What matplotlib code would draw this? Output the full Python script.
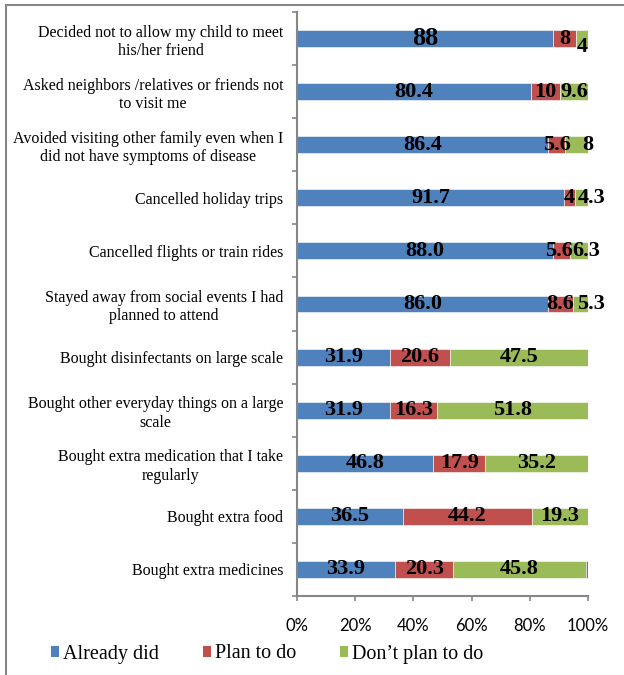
import matplotlib
matplotlib.use("Agg")
import matplotlib.pyplot as plt
from matplotlib.patches import Rectangle, Patch
import numpy as np

categories = [
    "Decided not to allow my child to meet\nhis/her friend",
    "Asked neighbors /relatives or friends not\nto visit me",
    "Avoided visiting other family even when I\ndid not have symptoms of disease",
    "Cancelled holiday trips",
    "Cancelled flights or train rides",
    "Stayed away from social events I had\nplanned to attend",
    "Bought disinfectants on large scale",
    "Bought other everyday things on a large\nscale",
    "Bought extra medication that I take\nregularly",
    "Bought extra food",
    "Bought extra medicines",
]
already_did = [88, 80.4, 86.4, 91.7, 88.0, 86.0, 31.9, 31.9, 46.8, 36.5, 33.9]
plan_to_do = [8, 10, 5.6, 4, 5.6, 8.6, 20.6, 16.3, 17.9, 44.2, 20.3]
dont_plan = [4, 9.6, 8, 4.3, 6.3, 5.3, 47.5, 51.8, 35.2, 19.3, 45.8]
other = [0, 0, 0, 0, 0, 0, 0, 0, 0, 0, 0.8]

already_lbl = ["88", "80.4", "86.4", "91.7", "88.0", "86.0", "31.9", "31.9", "46.8", "36.5", "33.9"]
plan_lbl = ["8", "10", "5.6", "4", "5.6", "8.6", "20.6", "16.3", "17.9", "44.2", "20.3"]
dont_lbl = ["4", "9.6", "8", "4.3", "6.3", "5.3", "47.5", "51.8", "35.2", "19.3", "45.8"]

series_names = ["Already did", "Plan to do", "Don\u2019t plan to do"]
colors = ["#4F81BD", "#C0504D", "#9BBB59", "#8064A2"]

# label nudges (points) for crowded small segments: (dx, dy)
nudge_plan = {4: (-2, 0)}
nudge_dont = {0: (0, -6), 2: (8, 0), 3: (7, 0), 4: (5, 0), 5: (8, 0)}

W, H = 624, 675
fig = plt.figure(figsize=(W / 100, H / 100), dpi=100)
ax = fig.add_axes([297 / W, 1 - 596 / H, 291 / W, 584 / H])

data = np.array([already_did, plan_to_do, dont_plan, other], dtype=float)
totals = data.sum(axis=0)
pct = data / totals * 100
y = np.arange(len(categories))
bar_h = 0.32

left = np.zeros(len(categories))
bars = []
for k in range(4):
    ax.barh(y, pct[k], left=left, height=bar_h, color=colors[k],
            edgecolor="white", linewidth=0.4)
    bars.append((left.copy(), pct[k].copy()))
    left += pct[k]

serif = "Liberation Serif"
labels_all = [already_lbl, plan_lbl, dont_lbl]
nudges = [{}, nudge_plan, nudge_dont]
for k in range(3):
    l0, w = bars[k]
    for i in range(len(categories)):
        dx, dy = nudges[k].get(i, (0, 0))
        fs = 19 if (i == 0 and k == 0) else 16
        ax.annotate(labels_all[k][i], xy=(l0[i] + w[i] / 2, y[i]),
                    xytext=(dx, dy), textcoords="offset points",
                    ha="center", va="center", fontsize=fs,
                    fontweight="bold", family=serif, color="black")

ax.set_xlim(0, 100)
ax.set_ylim(len(categories) - 0.5, -0.5)
ax.set_xticks([0, 20, 40, 60, 80, 100])
ax.set_xticklabels(["0%", "20%", "40%", "60%", "80%", "100%"],
                   family="Lato", fontsize=12)
ax.set_yticks(y)
ax.set_yticklabels(categories, family=serif, fontsize=11.5,
                   multialignment="center")
ax.set_yticks(np.arange(len(categories) + 1) - 0.5, minor=True)
ax.tick_params(axis="y", which="major", length=0, pad=10)
ax.tick_params(axis="y", which="minor", length=3.6, width=1.2,
               color="#868686", direction="out")
ax.tick_params(axis="x", which="major", length=3.6, width=1.2,
               color="#868686", direction="out", pad=12)
for s in ["top", "right"]:
    ax.spines[s].set_visible(False)
for s in ["left", "bottom"]:
    ax.spines[s].set_color("#868686")
    ax.spines[s].set_linewidth(1.5)

handles = [Patch(facecolor=colors[k], edgecolor="none") for k in range(3)]
fig.legend(handles, series_names, loc="center left",
           bbox_to_anchor=(51 / W, 1 - 654 / H), ncol=3, frameon=False,
           prop={"family": serif, "size": 14.5},
           handlelength=0.38, handleheight=0.42, handletextpad=0.2,
           columnspacing=2.2, borderpad=0, borderaxespad=0)

fig.add_artist(Rectangle((6 / W, -0.1), 1.2, 1.1 - 5 / H,
                         transform=fig.transFigure, fill=False,
                         edgecolor="#888888", linewidth=1.5))

fig.savefig("out.png", dpi=100)
